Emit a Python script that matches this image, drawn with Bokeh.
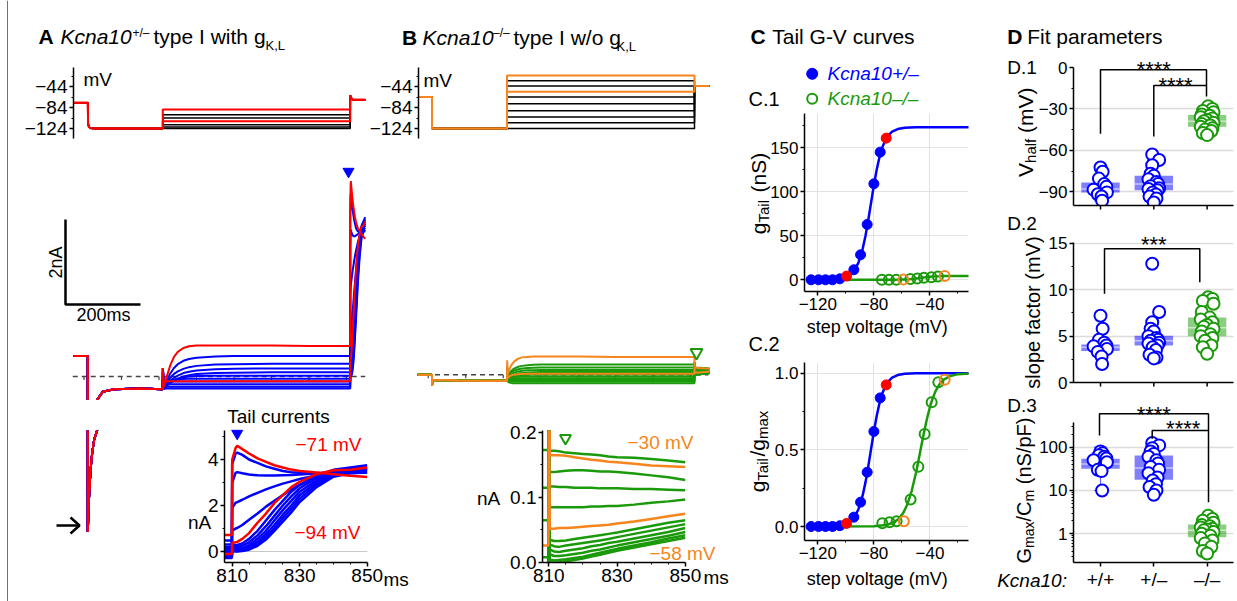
import math
import json
from bokeh.plotting import figure
from bokeh.layouts import row, column
from bokeh.models import (Range1d, FixedTicker, CustomJSTickFormatter, Label, GridBox)
from bokeh.embed import file_html
from bokeh.resources import INLINE

FONT = "Liberation Sans"
BLUE = "#0000ff"
RED = "#ff0000"
GREEN = "#1a9a0a"
ORANGE = "#f7851d"
W, H = 1237, 601

# ===================== DATA =====================
# --- voltage protocols (mV) ---
PROT_A_T = [72, 110, 111, 113, 118, 130, 310, 310, 810, 810, 813, 816, 850]
PROT_A_PRE = [-75, -75, -115, -121, -123.5, -124, -124]
PROT_A_POST = [-61, -66, -69, -69]
PROT_A_BLACK = [-98, -104, -117, -121, -124]
PROT_A_RED = [-88, -110]
PROT_B_T = [72, 110, 110, 310, 310, 810, 810, 850]
PROT_B_PRE = [-64, -64, -124, -124]
PROT_B_POST = [-43, -43]
PROT_B_BLACK = [-33, -43, -64, -77, -90, -102, -113, -124]
PROT_B_ORANGE = [-23, -54]

# --- current traces (ms, nA) ---
T_PRE = [72, 109.9, 110, 110.5, 111.5, 113, 115, 118, 122, 127, 135, 150, 180, 250, 309.9]
I_PRE_A = [0.48, 0.48, -4.2, -4.1, -3.6, -3.1, -2.55, -1.9, -1.35, -0.9, -0.55, -0.36, -0.3, -0.28, -0.3]
I_PRE_B = [0.0, 0.0, -0.25, -0.2, -0.16, -0.14, -0.13, -0.13, -0.13, -0.13, -0.13, -0.13, -0.135, -0.14, -0.14]
T_STEP = [310, 310.5, 312, 316, 320, 325, 330, 340, 350, 365, 380, 400, 450, 500, 600, 700, 809.9]
T_TAIL = [810, 811, 811.5, 813, 815, 817.5, 820, 822.5, 825, 827.5, 830, 835, 840, 845, 850]
T_TAIL_B = [810, 810.3, 811.5, 813, 815, 817.5, 820, 822.5, 825, 827.5, 830, 835, 840, 845, 850]
TIME_TICKS = [100, 200, 300, 400, 500, 600, 700, 800]

A_STEP_RED = [
    [-0.3, 0.2, -0.25, -0.15, -0.02, 0.12, 0.26, 0.46, 0.58, 0.67, 0.71, 0.73, 0.73, 0.73, 0.73, 0.72, 0.72],
    [-0.3, 0.2, -0.2, -0.14, -0.12, -0.11, -0.11, -0.11, -0.11, -0.11, -0.11, -0.11, -0.11, -0.11, -0.11, -0.11, -0.11],
]
A_TAIL_RED = [
    [4.0, 4.5, 4.6, 4.45, 4.26, 4.05, 3.9, 3.75, 3.65, 3.56, 3.5, 3.43, 3.36, 3.29, 3.24],
    [0.38, 0.4, 0.42, 0.55, 0.8, 1.25, 1.65, 2.1, 2.45, 2.8, 3.03, 3.36, 3.53, 3.55, 3.65],
]
A_STEP_BLUE = [
    [-0.3, 0.2, -0.27, -0.2, -0.12, -0.02, 0.07, 0.2, 0.29, 0.37, 0.41, 0.44, 0.47, 0.48, 0.48, 0.48, 0.48],
    [-0.3, 0.2, -0.28, -0.23, -0.17, -0.1, -0.03, 0.06, 0.12, 0.18, 0.22, 0.25, 0.28, 0.29, 0.3, 0.3, 0.3],
    [-0.3, 0.2, -0.28, -0.25, -0.2, -0.15, -0.1, -0.03, 0.02, 0.08, 0.11, 0.14, 0.17, 0.18, 0.19, 0.19, 0.19],
    [-0.3, 0.2, -0.29, -0.27, -0.23, -0.19, -0.15, -0.09, -0.05, 0.0, 0.03, 0.06, 0.08, 0.09, 0.1, 0.1, 0.1],
    [-0.3, 0.2, -0.29, -0.25, -0.2, -0.16, -0.12, -0.08, -0.05, -0.02, 0.0, 0.01, 0.02, 0.02, 0.02, 0.02, 0.02],
    [-0.3, 0.2, -0.26, -0.2, -0.15, -0.12, -0.1, -0.08, -0.07, -0.06, -0.05, -0.05, -0.05, -0.05, -0.05, -0.05, -0.05],
    [-0.3, 0.2, -0.24, -0.18, -0.15, -0.14, -0.13, -0.12, -0.12, -0.12, -0.12, -0.12, -0.12, -0.12, -0.12, -0.12, -0.12],
    [-0.3, 0.2, -0.24, -0.2, -0.19, -0.18, -0.18, -0.18, -0.18, -0.18, -0.18, -0.18, -0.18, -0.18, -0.18, -0.18, -0.18],
    [-0.3, 0.2, -0.26, -0.25, -0.24, -0.24, -0.24, -0.24, -0.24, -0.24, -0.24, -0.24, -0.24, -0.24, -0.24, -0.24, -0.24],
    [-0.3, 0.2, -0.29, -0.29, -0.28, -0.28, -0.28, -0.28, -0.28, -0.28, -0.28, -0.28, -0.28, -0.28, -0.28, -0.28, -0.28],
]
A_TAIL_BLUE = [
    [3.8, 4.25, 4.3, 4.2, 4.0, 3.85, 3.7, 3.6, 3.5, 3.45, 3.42, 3.4, 3.4, 3.41, 3.42],
    [3.0, 3.42, 3.45, 3.4, 3.35, 3.31, 3.3, 3.3, 3.32, 3.33, 3.35, 3.4, 3.45, 3.5, 3.55],
    [1.9, 2.12, 2.15, 2.25, 2.4, 2.55, 2.7, 2.83, 2.95, 3.05, 3.15, 3.3, 3.42, 3.52, 3.6],
    [0.9, 1.0, 1.02, 1.15, 1.38, 1.65, 1.95, 2.2, 2.45, 2.7, 2.9, 3.2, 3.45, 3.58, 3.65],
    [0.3, 0.28, 0.28, 0.35, 0.55, 0.9, 1.35, 1.8, 2.2, 2.6, 2.9, 3.3, 3.55, 3.65, 3.75],
    [0.22, 0.2, 0.2, 0.25, 0.4, 0.7, 1.1, 1.55, 2.0, 2.4, 2.75, 3.2, 3.5, 3.6, 3.7],
    [0.15, 0.12, 0.12, 0.15, 0.28, 0.55, 0.9, 1.35, 1.8, 2.2, 2.6, 3.1, 3.4, 3.55, 3.6],
    [0.1, 0.06, 0.06, 0.08, 0.2, 0.42, 0.75, 1.15, 1.6, 2.0, 2.45, 3.0, 3.35, 3.5, 3.55],
    [0.05, 0.02, 0.02, 0.04, 0.12, 0.32, 0.62, 1.0, 1.45, 1.85, 2.3, 2.9, 3.3, 3.45, 3.5],
    [0.02, 0.0, 0.0, 0.02, 0.08, 0.25, 0.52, 0.9, 1.3, 1.7, 2.15, 2.8, 3.25, 3.4, 3.45],
]
B_STEP_ORANGE = [
    [-0.14, 0.34, 0.02, 0.12, 0.2, 0.27, 0.32, 0.38, 0.41, 0.42, 0.43, 0.43, 0.43, 0.43, 0.42, 0.42, 0.42],
    [-0.14, 0.05, -0.08, -0.04, -0.02, 0.0, 0.01, 0.015, 0.02, 0.022, 0.024, 0.025, 0.026, 0.026, 0.026, 0.026, 0.026],
]
B_TAIL_ORANGE = [
    [0.3, 0.165, 0.165, 0.165, 0.164, 0.162, 0.16, 0.158, 0.157, 0.155, 0.154, 0.152, 0.149, 0.148, 0.147],
    [0.3, 0.052, 0.052, 0.053, 0.053, 0.054, 0.055, 0.056, 0.057, 0.058, 0.06, 0.063, 0.067, 0.071, 0.075],
]
B_STEP_GREEN = [
    [-0.14, 0.2, -0.04, 0.03, 0.08, 0.12, 0.15, 0.19, 0.21, 0.225, 0.235, 0.24, 0.24, 0.24, 0.24, 0.24, 0.24],
    [-0.14, 0.15, -0.06, 0.0, 0.04, 0.08, 0.1, 0.13, 0.15, 0.16, 0.165, 0.17, 0.17, 0.17, 0.17, 0.173, 0.173],
    [-0.14, 0.1, -0.08, -0.03, 0.0, 0.03, 0.05, 0.08, 0.095, 0.105, 0.11, 0.113, 0.115, 0.115, 0.115, 0.115, 0.115],
    [-0.14, 0.05, -0.1, -0.06, -0.03, -0.01, 0.01, 0.03, 0.045, 0.055, 0.06, 0.063, 0.065, 0.065, 0.065, 0.065, 0.065],
    [-0.14, 0.0, -0.12, -0.09, -0.07, -0.05, -0.04, -0.02, -0.01, 0.0, 0.005, 0.008, 0.008, 0.008, 0.008, 0.008, 0.008],
    [-0.14, 0.0, -0.13, -0.1, -0.08, -0.06, -0.05, -0.045, -0.04, -0.04, -0.04, -0.04, -0.04, -0.04, -0.04, -0.04, -0.04],
    [-0.14, 0.0, -0.13, -0.11, -0.1, -0.09, -0.085, -0.08, -0.08, -0.08, -0.08, -0.08, -0.08, -0.08, -0.08, -0.08, -0.08],
    [-0.14, 0.0, -0.14, -0.13, -0.125, -0.12, -0.12, -0.12, -0.12, -0.12, -0.12, -0.12, -0.12, -0.12, -0.12, -0.12, -0.12],
    [-0.14, 0.0, -0.15, -0.155, -0.16, -0.16, -0.16, -0.16, -0.16, -0.16, -0.16, -0.16, -0.16, -0.16, -0.16, -0.16, -0.16],
    [-0.14, 0.0, -0.16, -0.18, -0.19, -0.2, -0.2, -0.2, -0.2, -0.2, -0.2, -0.2, -0.2, -0.2, -0.2, -0.2, -0.2],
]
B_TAIL_GREEN = [
    [0.3, 0.172, 0.172, 0.171, 0.169, 0.168, 0.167, 0.166, 0.165, 0.163, 0.162, 0.161, 0.159, 0.157, 0.154],
    [0.3, 0.139, 0.139, 0.14, 0.141, 0.142, 0.142, 0.141, 0.14, 0.14, 0.139, 0.137, 0.134, 0.131, 0.127],
    [0.3, 0.117, 0.117, 0.116, 0.116, 0.115, 0.115, 0.115, 0.114, 0.114, 0.114, 0.113, 0.113, 0.112, 0.111],
    [0.3, 0.085, 0.085, 0.085, 0.085, 0.085, 0.085, 0.086, 0.086, 0.087, 0.087, 0.089, 0.092, 0.094, 0.097],
    [0.3, 0.035, 0.033, 0.033, 0.034, 0.036, 0.038, 0.04, 0.042, 0.044, 0.046, 0.051, 0.056, 0.061, 0.065],
    [0.3, 0.028, 0.025, 0.024, 0.026, 0.028, 0.03, 0.032, 0.034, 0.036, 0.039, 0.044, 0.049, 0.054, 0.059],
    [0.3, 0.02, 0.017, 0.016, 0.018, 0.02, 0.022, 0.025, 0.027, 0.03, 0.032, 0.037, 0.042, 0.047, 0.053],
    [0.3, 0.013, 0.01, 0.01, 0.011, 0.013, 0.015, 0.018, 0.02, 0.023, 0.026, 0.031, 0.036, 0.041, 0.047],
    [0.3, 0.005, 0.003, 0.004, 0.005, 0.007, 0.009, 0.012, 0.015, 0.018, 0.021, 0.026, 0.031, 0.037, 0.042],
    [0.3, 0.0, 0.0, 0.0, 0.002, 0.004, 0.006, 0.009, 0.012, 0.015, 0.018, 0.023, 0.028, 0.033, 0.038],
]
SCALE_T = 200   # ms
SCALE_I = 2     # nA

# --- tail G-V (mV, nS / normalised) ---
GV_HET_V = [-124.8, -119.5, -114.5, -109.5, -104.3, -94.3, -89.5, -84.8, -80.0, -75.5]
GV_HET_G = [0.0, 0.0, 0.0, 0.0, 1.1, 11.4, 28.4, 62.9, 109.1, 145.1]
GV_HET_RED_V = [-99.5, -71.2]
GV_HET_RED_G = [4.2, 161.0]
GV_KO_V = [-74.3, -69.3, -64.0, -54.0, -49.0, -44.3, -39.0, -34.3]
GV_KO_G = [0.0, 0.0, 0.0, 0.8, 1.5, 2.3, 3.0, 3.8]
GV_KO_OR_V = [-59.0, -29.5]
GV_KO_OR_G = [0.2, 4.2]
GN_HET = [0.0, 0.0, 0.0, 0.0, 0.005, 0.061, 0.159, 0.354, 0.62, 0.839]
GN_HET_RED = [0.02, 0.924]
GN_KO_V = [-74.0, -68.8, -63.8, -53.8, -48.3, -43.8, -38.8, -34.0]
GN_KO = [0.022, 0.028, 0.035, 0.176, 0.39, 0.604, 0.811, 0.941]
GN_KO_OR_V = [-58.6, -29.5]
GN_KO_OR = [0.035, 0.957]
FIT_HET_V = [-126, -110, -104, -100, -97, -94, -91, -88, -86, -84, -82, -80, -78, -76, -74, -72, -70, -67, -63, -58, -50, -12]
FIT_HET_G = [0.0, 0.26, 1.07, 2.69, 5.3, 10.3, 19.5, 35.2, 49.9, 68.0, 87.7, 107.5, 125.0, 139.6, 150.5, 158.1, 163.5, 168.4, 171.3, 172.7, 173.3, 173.4]
FIT_HET_N = [0.0, 0.0015, 0.0062, 0.0155, 0.0306, 0.0595, 0.1125, 0.203, 0.288, 0.392, 0.506, 0.62, 0.721, 0.805, 0.868, 0.912, 0.943, 0.971, 0.988, 0.996, 0.9994, 1.0]
FIT_KO_V = [-126, -80, -70, -65, -62, -59, -56, -53, -50, -48, -46, -44, -42, -40, -38, -36, -33, -30, -26, -20, -12]
FIT_KO_N = [0.0, 0.0019, 0.012, 0.031, 0.053, 0.089, 0.147, 0.233, 0.349, 0.439, 0.533, 0.625, 0.708, 0.78, 0.837, 0.883, 0.93, 0.959, 0.98, 0.994, 0.9985]
FIT_KO_G = [0.0, 0.008, 0.053, 0.136, 0.233, 0.39, 0.65, 1.03, 1.54, 1.93, 2.35, 2.75, 3.12, 3.43, 3.68, 3.89, 4.09, 4.22, 4.31, 4.37, 4.39]

# --- fit parameters per genotype ---
GROUPS = ["+/+", "+/\u2013", "\u2013/\u2013"]
VH_WT = [-72.5, -75.5, -80.5, -84.5, -86.5, -88.5, -90.5, -91.8, -93.5, -96.5]
VH_HET = [-63, -67, -70.8, -77, -78.5, -81, -83, -84.5, -86, -87.5, -88, -89, -90.5, -92, -93.5, -95, -97.8]
VH_KO = [-28, -30, -31.5, -32.5, -34, -35, -36, -37, -38, -39, -40, -41, -42, -43, -44, -45, -46, -47.5, -49]
SF_WT = [7.2, 5.8, 4.6, 4.3, 4.0, 3.9, 3.6, 3.3, 2.8, 2.0]
SF_HET = [12.8, 7.6, 6.5, 5.8, 5.5, 5.0, 4.8, 4.6, 4.5, 4.3, 4.2, 4.0, 3.8, 3.5, 3.0, 2.7, 2.6]
SF_KO = [9.2, 9.0, 8.8, 8.5, 7.6, 7.0, 6.8, 6.5, 6.2, 6.0, 5.8, 5.5, 5.2, 5.0, 4.8, 4.5, 4.0, 3.8, 3.1]
GM_WT = [80, 72, 65, 60, 55, 50, 45, 30, 28, 10]
GM_HET = [125, 110, 95, 80, 70, 60, 50, 42, 35, 30, 25, 20, 17, 14, 12, 10, 8]
GM_KO = [2.6, 2.2, 2.0, 1.8, 1.6, 1.5, 1.4, 1.3, 1.25, 1.2, 1.1, 1.0, 0.9, 0.8, 0.7, 0.6, 0.5, 0.4, 0.35]
JIT_WT = [0.0, 0.04, -0.03, 0.07, 0.11, -0.13, 0.12, -0.05, 0.02, 0.03]
JIT_HET = [-0.03, 0.1, -0.03, -0.06, 0.0, -0.1, 0.05, 0.08, -0.06, 0.1, -0.1, 0.07, -0.02, 0.04, -0.08, 0.05, 0.0]
JIT_KO = [0.02, 0.1, -0.08, 0.12, -0.1, 0.05, -0.12, 0.1, 0.0, -0.06, 0.12, -0.1, 0.06, -0.12, 0.1, -0.04, 0.08, -0.08, 0.0]
VH_Q1 = [-90.6, -88.9, -43.0]; VH_MED = [-88.0, -84.5, -39.0]; VH_Q3 = [-83.3, -78.5, -34.5]
VH_LO = [-96.6, -97.8, -50.2]; VH_HI = [-75.0, -66.0, -27.7]
SF_Q1 = [3.4, 4.0, 5.0]; SF_MED = [3.8, 4.5, 5.9]; SF_Q3 = [4.1, 5.05, 7.0]
SF_LO = [3.1, 2.7, 3.1]; SF_HI = [4.5, 5.8, 9.3]
GM_Q1 = [31.7, 17.6, 0.83]; GM_MED = [41.0, 33.0, 1.2]; GM_Q3 = [54.0, 64.3, 1.64]
GM_LO = [10.0, 8.0, 0.35]; GM_HI = [100.0, 120.0, 2.6]

# ===================== HELPERS =====================
CW = {" ": 278, "(": 333, ")": 333, "/": 278, ",": 278, ".": 278, "-": 333, "+": 584,
      "\u2013": 556, "\u2212": 584, ":": 278, "*": 389}
for _c in "0123456789":
    CW[_c] = 556
CW.update({"a": 556, "b": 556, "c": 500, "d": 556, "e": 556, "f": 278, "g": 556, "h": 556,
           "i": 222, "j": 222, "k": 500, "l": 222, "m": 833, "n": 556, "o": 556, "p": 556,
           "q": 556, "r": 333, "s": 500, "t": 278, "u": 556, "v": 500, "w": 722, "x": 500,
           "y": 500, "z": 500, "A": 667, "C": 722, "F": 611, "G": 778, "K": 667, "L": 556,
           "S": 667, "T": 611, "V": 667})


def tw(s, size):
    return sum(CW.get(c, 556) for c in s) * size / 1000.0


def style_axis(ax, size):
    ax.axis_line_color = "black"
    ax.axis_line_width = 1.5
    ax.major_tick_line_color = "black"
    ax.major_tick_line_width = 1.5
    ax.major_tick_in = 0
    ax.major_tick_out = 4
    ax.minor_tick_line_color = "black"
    ax.minor_tick_line_width = 1
    ax.minor_tick_in = 0
    ax.minor_tick_out = 2
    ax.major_label_text_font = FONT
    ax.major_label_text_font_size = "%gpx" % size
    ax.major_label_text_color = "black"
    ax.major_label_standoff = 2


# ---- transparent overlay covering the whole page: all texts / brackets live here ----
OV = figure(width=W, height=H, x_range=Range1d(0, W), y_range=Range1d(0, H),
            x_axis_location=None, y_axis_location=None, output_backend="svg",
            toolbar_location=None, title=None, min_border=0,
            min_border_left=0, min_border_right=0, min_border_top=0, min_border_bottom=0)
OV.xgrid.visible = False
OV.ygrid.visible = False
OV.outline_line_color = None
OV.background_fill_alpha = 0
OV.border_fill_alpha = 0


def T(xp, yp, s, size=19, color="black", style="normal", align="left", angle=0.0):
    OV.add_layout(Label(x=xp, y=H - yp, text=s, text_font=FONT, text_font_size="%gpx" % size,
                        text_color=color, text_font_style=style, text_align=align,
                        text_baseline="middle", angle=angle))


def rich(cy, pieces):
    """pieces: (x, text, size, style, dy) placed at measured x positions."""
    for x, s, size, style, dy in pieces:
        T(x, cy + dy, s, size=size, style=style)


def vrich(center_x, center_y, pieces):
    """rotated (bottom-to-top) text; pieces: (text, size, dx, gap_before)."""
    total = sum(tw(s, size) + gap for s, size, d, gap in pieces)
    y = center_y + total / 2.0
    for s, size, d, gap in pieces:
        y -= gap
        T(center_x + d, y, s, size=size, angle=math.pi / 2)
        y -= tw(s, size)


def SEG(pts, color="black", width=1.5):
    OV.line([x for x, y in pts], [H - y for x, y in pts], line_color=color, line_width=width)


class Panel:
    """A figure occupying a page tile, with its plotting frame at a page box."""

    def __init__(self, tile, frame, xr, yr, xaxis=False, yaxis=False, ylog=False, tick_size=18):
        self.tile, self.frame, self.xr, self.yr = tile, frame, xr, yr
        tx0, ty0, tx1, ty1 = tile
        fx0, fy0, fx1, fy1 = frame
        self.p = p = figure(
            width=int(round(tx1 - tx0)), height=int(round(ty1 - ty0)),
            x_range=Range1d(xr[0], xr[1]), y_range=Range1d(yr[0], yr[1]),
            y_axis_type="log" if ylog else "linear",
            x_axis_location="below" if xaxis else None,
            y_axis_location="left" if yaxis else None,
            output_backend="svg", toolbar_location=None, title=None,
            min_border_left=int(round(fx0 - tx0)), min_border_right=int(round(tx1 - fx1)),
            min_border_top=int(round(fy0 - ty0)), min_border_bottom=int(round(ty1 - fy1)))
        p.outline_line_color = None
        p.xgrid.visible = False
        p.ygrid.visible = False
        for ax in list(p.xaxis) + list(p.yaxis):
            style_axis(ax, tick_size)

    def dx(self, xp):
        fx0, fy0, fx1, fy1 = self.frame
        return self.xr[0] + (xp - fx0) / (fx1 - fx0) * (self.xr[1] - self.xr[0])

    def dy(self, yp):
        fx0, fy0, fx1, fy1 = self.frame
        return self.yr[0] + (fy1 - yp) / (fy1 - fy0) * (self.yr[1] - self.yr[0])

    def px(self, x):
        fx0, fy0, fx1, fy1 = self.frame
        return fx0 + (x - self.xr[0]) / (self.xr[1] - self.xr[0]) * (fx1 - fx0)


def line(P, t, v, color, width):
    n = min(len(t), len(v))
    P.p.line(t[:n], v[:n], line_color=color, line_width=width)


def minus_fmt():
    return CustomJSTickFormatter(code="return tick < 0 ? '\u2212' + Math.abs(tick) : String(tick);")


# page-pixel <-> data mapping of the raw-trace panels (time 0.375 px/ms, 42.5 px/nA)
def ta(xp): return (xp - 46.0) / 0.375
def tb(xp): return (xp - 390.25) / 0.375
def ia(yp): return (376.0 - yp) / 42.5
def ib(yp): return (374.3 - yp) / 42.5


# ===================== PANEL A / B : protocols =====================
PA = Panel((0, 0, 366, 150), (73, 67, 366, 138), (ta(73), ta(366)), (-143.0, -7.8), yaxis=True, tick_size=19)
PB = Panel((366, 0, 740, 150), (418, 67, 711, 138), (tb(418), tb(711)), (-143.0, -7.8), yaxis=True, tick_size=19)
for P in (PA, PB):
    P.p.yaxis.ticker = FixedTicker(ticks=[-124, -84, -44], minor_ticks=[-104, -64, -24])
    P.p.yaxis.formatter = minus_fmt()

for L in PROT_A_BLACK:
    line(PA, PROT_A_T, PROT_A_PRE + [L, L] + PROT_A_POST, "black", 1.5)
for L in PROT_A_RED:
    line(PA, PROT_A_T, PROT_A_PRE + [L, L] + PROT_A_POST, RED, 2)
for L in PROT_B_BLACK:
    line(PB, PROT_B_T, PROT_B_PRE + [L, L] + PROT_B_POST, "black", 1.5)
for L in PROT_B_ORANGE:
    line(PB, PROT_B_T, PROT_B_PRE + [L, L] + PROT_B_POST, ORANGE, 2)

# ===================== PANEL A / B : current traces =====================
PAm = Panel((0, 150, 400, 400), (0, 150, 400, 400), (ta(0), ta(400)), (ia(400), ia(150)))
PAl = Panel((0, 400, 180, 601), (0, 400, 180, 601), (ta(0), ta(180)), (ia(601), ia(400)))
PAi = Panel((180, 400, 410, 601), (224, 430, 367, 562), (807.72, 850.09), (-0.478, 5.26),
            xaxis=True, yaxis=True, tick_size=19)
PBm = Panel((400, 150, 740, 400), (400, 150, 740, 400), (tb(400), tb(740)), (ib(400), ib(150)))
PBi = Panel((410, 400, 740, 601), (542, 427, 685, 563), (808.16, 850.03), (0.0, 0.203),
            xaxis=True, yaxis=True, tick_size=19)

# zero-current reference lines (with the small time ticks of the hidden time axis)
PAm.p.line([70, 850], [0, 0], line_color="#444444", line_dash="5 4", line_width=1.5)
PBm.p.line([70, 847], [0, 0], line_color="#444444", line_dash="5 4", line_width=1.5)
PAm.p.segment(x0=TIME_TICKS, y0=[0] * len(TIME_TICKS), x1=TIME_TICKS, y1=[-0.08] * len(TIME_TICKS),
              line_color="#444444", line_width=1.2)
PBm.p.segment(x0=TIME_TICKS, y0=[0] * len(TIME_TICKS), x1=TIME_TICKS, y1=[-0.08] * len(TIME_TICKS),
              line_color="#444444", line_width=1.2)
PAi.p.line([807.72, 850.09], [0, 0], line_color="#c8c8c8", line_width=1.2)

TA = T_PRE + T_STEP + T_TAIL
TB = T_PRE + T_STEP + T_TAIL_B
for P, w in ((PAm, 2), (PAl, 2), (PAi, 2.5)):
    for st, tl in reversed(list(zip(A_STEP_BLUE, A_TAIL_BLUE))):
        line(P, TA, I_PRE_A + st + tl, BLUE, w)
    for st, tl in reversed(list(zip(A_STEP_RED, A_TAIL_RED))):
        line(P, TA, I_PRE_A + st + tl, RED, w)
for P, w in ((PBm, 2), (PBi, 2.5)):
    for st, tl in reversed(list(zip(B_STEP_GREEN, B_TAIL_GREEN))):
        line(P, TB, I_PRE_B + st + tl, GREEN, w)
    for st, tl in reversed(list(zip(B_STEP_ORANGE, B_TAIL_ORANGE))):
        line(P, TB, I_PRE_B + st + tl, ORANGE, w)

# scale bar (2 nA / 200 ms)
sx0, sy0 = ta(65), ia(304)
PAm.p.line([sx0, sx0, sx0 + SCALE_T], [sy0 + SCALE_I, sy0, sy0], line_color="black", line_width=2.5)
PAm.p.scatter([ta(348)], [ia(171)], marker="inverted_triangle", size=11, color=BLUE)
PBm.p.scatter([tb(696)], [ib(352)], marker="inverted_triangle", size=12,
              line_color=GREEN, line_width=2, fill_alpha=0)

# insets
for P in (PAi, PBi):
    P.p.xaxis.ticker = FixedTicker(ticks=[810, 830, 850], minor_ticks=[815, 820, 825, 835, 840, 845])
PAi.p.yaxis.ticker = FixedTicker(ticks=[0, 2, 4], minor_ticks=[1, 3, 5])
PBi.p.yaxis.ticker = FixedTicker(ticks=[0, 0.1, 0.2], minor_ticks=[0.05, 0.15])
PBi.p.yaxis.formatter = CustomJSTickFormatter(code="return tick.toFixed(1);")
PBi.p.scatter([PBi.dx(565)], [PBi.dy(435)], marker="inverted_triangle", size=11,
              line_color=GREEN, line_width=2, fill_alpha=0)

# ===================== PANEL C =====================
PC1 = Panel((740, 0, 990, 333), (804, 113, 968, 291), (-129.5, -12.5), (-13.3, 189.0),
            xaxis=True, yaxis=True, tick_size=17)
PC2 = Panel((740, 333, 990, 601), (804, 362, 968, 540), (-129.5, -12.5), (-0.0913, 1.07),
            xaxis=True, yaxis=True, tick_size=17)
for P in (PC1, PC2):
    P.p.xaxis.ticker = FixedTicker(ticks=[-120, -80, -40], minor_ticks=[-100, -60, -20])
    P.p.xgrid.visible = True
    P.p.ygrid.visible = True
    P.p.grid.grid_line_color = "#e2e2e2"
    P.p.grid.grid_line_width = 1
PC1.p.yaxis.ticker = FixedTicker(ticks=[0, 50, 100, 150], minor_ticks=[25, 75, 125, 175])
PC2.p.yaxis.ticker = FixedTicker(ticks=[0, 0.5, 1.0], minor_ticks=[0.25, 0.75])
PC2.p.yaxis.formatter = CustomJSTickFormatter(code="return tick.toFixed(1);")

p = PC1.p
p.line(FIT_HET_V, FIT_HET_G, line_color=BLUE, line_width=2.5)
p.line(FIT_KO_V, FIT_KO_G, line_color=GREEN, line_width=2.5)
p.scatter(GV_HET_V, GV_HET_G, marker="circle", size=10, color=BLUE)
p.scatter(GV_HET_RED_V, GV_HET_RED_G, marker="circle", size=10, color=RED)
p.scatter(GV_KO_V, GV_KO_G, marker="circle", size=10, line_color=GREEN, line_width=2, fill_alpha=0)
p.scatter(GV_KO_OR_V, GV_KO_OR_G, marker="circle", size=10, line_color=ORANGE, line_width=2, fill_alpha=0)

p = PC2.p
p.line(FIT_HET_V, FIT_HET_N, line_color=BLUE, line_width=2.5)
p.line(FIT_KO_V, FIT_KO_N, line_color=GREEN, line_width=2.5)
p.scatter(GV_HET_V, GN_HET, marker="circle", size=10, color=BLUE)
p.scatter(GV_HET_RED_V, GN_HET_RED, marker="circle", size=10, color=RED)
p.scatter(GN_KO_V, GN_KO, marker="circle", size=10, line_color=GREEN, line_width=2, fill_alpha=0)
p.scatter(GN_KO_OR_V, GN_KO_OR, marker="circle", size=10, line_color=ORANGE, line_width=2, fill_alpha=0)

# ===================== PANEL D =====================
PD1 = Panel((990, 0, 1237, 215), (1073, 67, 1233, 205), (0.4934, 3.495), (-100.0, 0.0),
            xaxis=True, yaxis=True, tick_size=17)
PD2 = Panel((990, 215, 1237, 393), (1073, 242, 1233, 382), (0.4934, 3.495), (0.0, 15.1),
            xaxis=True, yaxis=True, tick_size=17)
PD3 = Panel((990, 393, 1237, 601), (1073, 422, 1233, 562), (0.4934, 3.495), (0.2173, 371.5),
            xaxis=True, yaxis=True, ylog=True, tick_size=17)
PD1.p.yaxis.ticker = FixedTicker(ticks=[-90, -60, -30, 0], minor_ticks=[-75, -45, -15])
PD2.p.yaxis.ticker = FixedTicker(ticks=[0, 5, 10, 15], minor_ticks=[2.5, 7.5, 12.5])
log_minor = [0.3, 0.4, 0.5, 0.6, 0.7, 0.8, 0.9, 2, 3, 4, 5, 6, 7, 8, 9,
             20, 30, 40, 50, 60, 70, 80, 90, 200, 300]
PD3.p.yaxis.ticker = FixedTicker(ticks=[1, 10, 100], minor_ticks=log_minor)
PD3.p.yaxis.formatter = CustomJSTickFormatter(code="return String(tick);")
for P in (PD1, PD2, PD3):
    P.p.ygrid.visible = True
    P.p.ygrid.grid_line_color = "#dcdcdc"
    P.p.ygrid.grid_line_width = 1.5
# D.1 / D.2: unlabeled category axes (tick marks drawn in the overlay)
for P in (PD1, PD2):
    P.p.xaxis.ticker = FixedTicker(ticks=[], minor_ticks=[])
PD3.p.xaxis.ticker = FixedTicker(ticks=[1, 2, 3], minor_ticks=[])
PD3.p.xaxis.formatter = CustomJSTickFormatter(
    code="const g = %s; return g[Math.round(tick) - 1] || '';" % json.dumps(GROUPS))
PD3.p.xaxis.major_label_text_font_size = "19px"

GCOL = [BLUE, BLUE, GREEN]
XS = [1, 2, 3]


def box_panel(P, groups, q1, med, q3, lo, hi):
    p = P.p
    p.segment(x0=XS, y0=lo, x1=XS, y1=hi, line_color=GCOL, line_alpha=0.6, line_width=1.2)
    p.segment(x0=[x - 0.12 for x in XS], y0=lo, x1=[x + 0.12 for x in XS], y1=lo,
              line_color=GCOL, line_alpha=0.6, line_width=1.2)
    p.segment(x0=[x - 0.12 for x in XS], y0=hi, x1=[x + 0.12 for x in XS], y1=hi,
              line_color=GCOL, line_alpha=0.6, line_width=1.2)
    p.vbar(x=XS, width=0.72, bottom=q1, top=q3, fill_color=GCOL, fill_alpha=0.5, line_color=None)
    p.segment(x0=[x - 0.36 for x in XS], y0=med, x1=[x + 0.36 for x in XS], y1=med,
              line_color="white", line_alpha=0.55, line_width=1.5)
    for gi, (vals, jit) in enumerate(groups):
        n = min(len(vals), len(jit))
        p.scatter([XS[gi] + d for d in jit[:n]], vals[:n], marker="circle", size=12,
                  line_color=GCOL[gi], line_width=2, fill_color="white")


box_panel(PD1, [(VH_WT, JIT_WT), (VH_HET, JIT_HET), (VH_KO, JIT_KO)], VH_Q1, VH_MED, VH_Q3, VH_LO, VH_HI)
box_panel(PD2, [(SF_WT, JIT_WT), (SF_HET, JIT_HET), (SF_KO, JIT_KO)], SF_Q1, SF_MED, SF_Q3, SF_LO, SF_HI)
box_panel(PD3, [(GM_WT, JIT_WT), (GM_HET, JIT_HET), (GM_KO, JIT_KO)], GM_Q1, GM_MED, GM_Q3, GM_LO, GM_HI)

# ===================== OVERLAY: texts, legend, brackets =====================
SEG([(7, 0), (7, H)], color="#707070", width=1)
for P in (PD1, PD2):
    yb = P.frame[3]
    for x in XS:
        SEG([(P.px(x), yb), (P.px(x), yb + 4)], width=1.5)
# titles (rich text: italic gene name, superscript genotype, subscript K,L)
rich(36, [(38, "A", 21, "bold", 0), (60, "Kcna10", 21, "italic", 0), (132, "+/\u2013", 12, "normal", -4),
          (153, "type I with g", 21, "normal", 0), (265, "K,L", 13, "normal", 9)])
rich(36.5, [(401.5, "B", 21, "bold", 0), (422, "Kcna10", 21, "italic", 0), (492.5, "\u2013/\u2013", 12, "normal", -4),
            (513, "type I w/o g", 21, "normal", 0), (616, "K,L", 13, "normal", 9)])
rich(35.5, [(750, "C", 21, "bold", 0), (771.7, "Tail G-V curves", 21, "normal", 0)])
rich(36, [(1006.7, "D", 21, "bold", 0), (1026.7, "Fit parameters", 21, "normal", 0)])
T(83, 79, "mV")
T(423, 80, "mV")
# A / B traces
T(55, 262, "2nA", size=18, align="center", angle=math.pi / 2)
T(103, 314, "200ms", size=18, align="center")
OV.line([56, 78], [H - 525, H - 525], line_color="black", line_width=2.5)
OV.line([70, 79, 70], [H - 517, H - 525, H - 533], line_color="black", line_width=2.5)
OV.scatter([236.7], [H - 433], marker="inverted_triangle", size=11, color=BLUE)
T(278, 416, "Tail currents", size=19, align="center")
T(328, 444, "\u221271 mV", size=19, color=RED, align="center")
T(327, 532, "\u221294 mV", size=19, color=RED, align="center")
T(199, 522, "nA", size=19, align="center")
T(383, 579, "ms", size=19)
T(488, 498, "nA", size=19, align="center")
T(660, 442, "\u221230 mV", size=19, color=ORANGE, align="center")
T(682, 553, "\u221258 mV", size=19, color=ORANGE, align="center")
T(703, 577, "ms", size=19)
# C
OV.scatter([811.7], [H - 73.3], marker="circle", size=11, color=BLUE)
OV.scatter([811.7], [H - 98.3], marker="circle", size=10, line_color=GREEN, line_width=2, fill_alpha=0)
T(827, 73.3, "Kcna10+/\u2013", size=19, color=BLUE, style="italic")
T(827, 98.3, "Kcna10\u2013/\u2013", size=19, color=GREEN, style="italic")
T(748, 98, "C.1", size=20)
vrich(758, 193, [("g", 21, 0, 0), ("Tail", 15, 5, 0), ("(nS)", 21, 0, tw(" ", 21))])
T(876.7, 326, "step voltage (mV)", size=18, align="center")
T(748, 343, "C.2", size=20)
vrich(757, 451, [("g", 21, 0, 0), ("Tail", 15, 5, 0), ("/g", 21, 0, 0), ("max", 15, 5, 0)])
T(876.7, 578, "step voltage (mV)", size=18, align="center")
# D
T(1006.7, 66.7, "D.1", size=19)
vrich(1025, 131.7, [("V", 21, 0, 0), ("half", 15, 5, 0), ("(mV)", 21, 0, tw(" ", 21))])
SEG([(1100, 133.3), (1100, 69.3), (1206, 69.3), (1206, 96)])
SEG([(1153.3, 136), (1153.3, 85), (1206, 85)])
T(1153.3, 68.6, "****", size=22, align="center")
T(1175, 84.6, "****", size=22, align="center")
T(1006.7, 223.3, "D.2", size=19)
T(1032, 312, "slope factor (mV)", size=20, align="center", angle=math.pi / 2)
SEG([(1104, 293.3), (1104, 248.3), (1199.3, 248.3), (1199.3, 281.7)])
T(1153.3, 243.6, "***", size=22, align="center")
T(1006.7, 405, "D.3", size=19)
vrich(1023, 490, [("G", 20, 0, 0), ("max", 14, 5, 0), ("/C", 20, 0, 0), ("m", 14, 5, 0),
                  ("(nS/pF)", 20, 0, tw(" ", 20))])
SEG([(1099, 435), (1099, 413.3), (1208, 413.3), (1208, 501.7)])
SEG([(1151.7, 438.3), (1151.7, 430), (1208, 430)])
T(1153.3, 413.6, "****", size=22, align="center")
T(1182.7, 428, "****", size=22, align="center")
T(996.7, 580, "Kcna10:", size=19, style="italic")

# ===================== LAYOUT =====================
top = row(PA.p, PB.p, spacing=0)
mid = row(PAm.p, PBm.p, spacing=0)
bot = row(PAl.p, PAi.p, PBi.p, spacing=0)
col_ab = column(top, mid, bot, spacing=0)
col_c = column(PC1.p, PC2.p, spacing=0)
col_d = column(PD1.p, PD2.p, PD3.p, spacing=0)
main = row(col_ab, col_c, col_d, spacing=0)
root = GridBox(children=[(main, 0, 0), (OV, 0, 0)])

open("out.html", "w").write(file_html(root, INLINE, title="Kcna10 tail G-V"))
